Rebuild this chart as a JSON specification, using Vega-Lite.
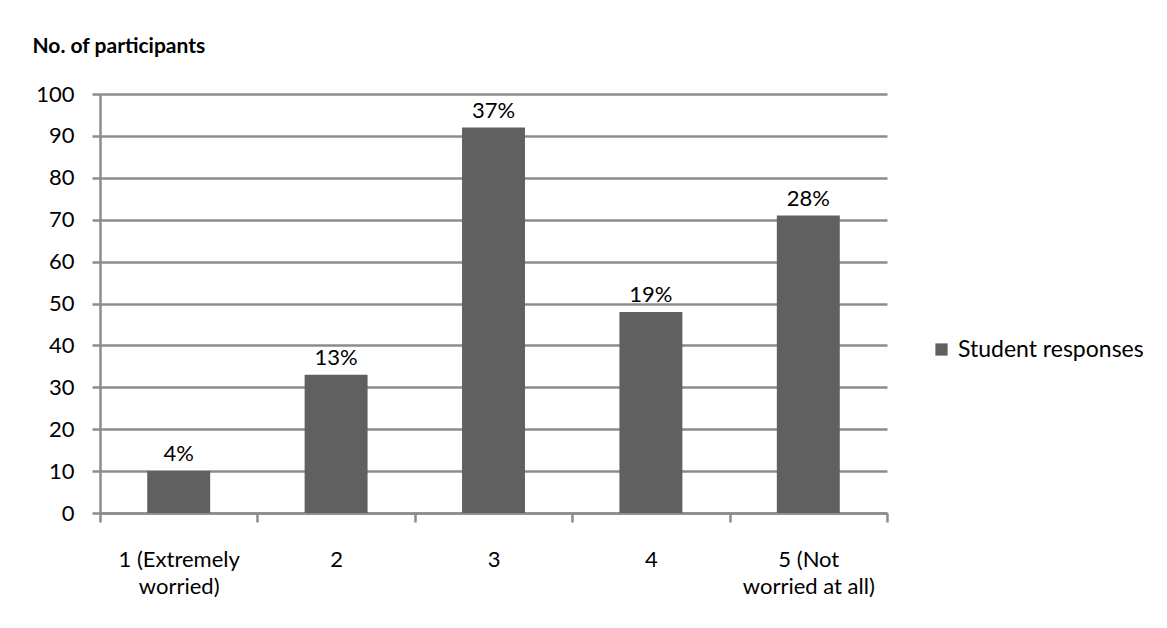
{
  "$schema": "https://vega.github.io/schema/vega-lite/v6.json",
  "width": 787,
  "height": 419,
  "autosize": {"type": "none"},
  "padding": {"left": 100, "top": 94, "right": 280, "bottom": 115},
  "background": "white",
  "data": {
    "values": [
      {"rating": "1 (Extremely worried)", "participants": 10, "share": "4%", "series": "Student responses"},
      {"rating": "2", "participants": 33, "share": "13%", "series": "Student responses"},
      {"rating": "3", "participants": 92, "share": "37%", "series": "Student responses"},
      {"rating": "4", "participants": 48, "share": "19%", "series": "Student responses"},
      {"rating": "5 (Not worried at all)", "participants": 71, "share": "28%", "series": "Student responses"}
    ]
  },
  "encoding": {
    "x": {
      "field": "rating",
      "type": "nominal",
      "sort": null,
      "scale": {"paddingInner": 0, "paddingOuter": 0},
      "axis": {
        "title": null,
        "labelAngle": 0,
        "tickBand": "extent",
        "tickSize": 9,
        "labelPadding": 27,
        "labelLineHeight": 27,
        "labelExpr": "datum.value == '1 (Extremely worried)' ? ['1 (Extremely', 'worried)'] : datum.value == '5 (Not worried at all)' ? ['5 (Not', 'worried at all)'] : datum.value"
      }
    },
    "y": {
      "field": "participants",
      "type": "quantitative",
      "scale": {"domain": [0, 100], "nice": false},
      "axis": {
        "values": [0, 10, 20, 30, 40, 50, 60, 70, 80, 90, 100],
        "title": "No. of participants",
        "titleAngle": 0,
        "titleAlign": "left",
        "titleBaseline": "alphabetic",
        "titleX": -68,
        "titleY": -42,
        "titleFontSize": 21,
        "titleFontWeight": "bold",
        "titleColor": "#000000",
        "grid": true,
        "tickSize": 8,
        "labelPadding": 18
      }
    }
  },
  "layer": [
    {
      "mark": {"type": "bar", "color": "#606060", "width": {"band": 0.4}},
      "encoding": {
        "color": {
          "field": "series",
          "type": "nominal",
          "scale": {"range": ["#606060"]},
          "legend": {
            "title": null,
            "orient": "none",
            "legendX": 830,
            "legendY": 244,
            "symbolType": "square",
            "symbolSize": 150,
            "symbolStrokeWidth": 0,
            "symbolOpacity": 1,
            "labelFontSize": 23,
            "labelLimit": 0,
            "labelColor": "#000000",
            "labelOffset": 5
          }
        }
      }
    },
    {
      "mark": {"type": "text", "baseline": "alphabetic", "dy": -10, "fontSize": 22, "font": "Lato", "color": "#000000"},
      "encoding": {"text": {"field": "share"}}
    }
  ],
  "config": {
    "font": "Lato",
    "view": {"stroke": null},
    "axis": {
      "labelFont": "Lato",
      "labelFontSize": 22,
      "labelColor": "#000000",
      "titleFont": "Lato",
      "domainColor": "#8c8c8c",
      "domainWidth": 2.5,
      "tickColor": "#8c8c8c",
      "tickWidth": 2.5,
      "gridColor": "#8c8c8c",
      "gridWidth": 2.5,
      "gridOpacity": 1
    },
    "legend": {"labelFont": "Lato", "padding": 0}
  }
}
